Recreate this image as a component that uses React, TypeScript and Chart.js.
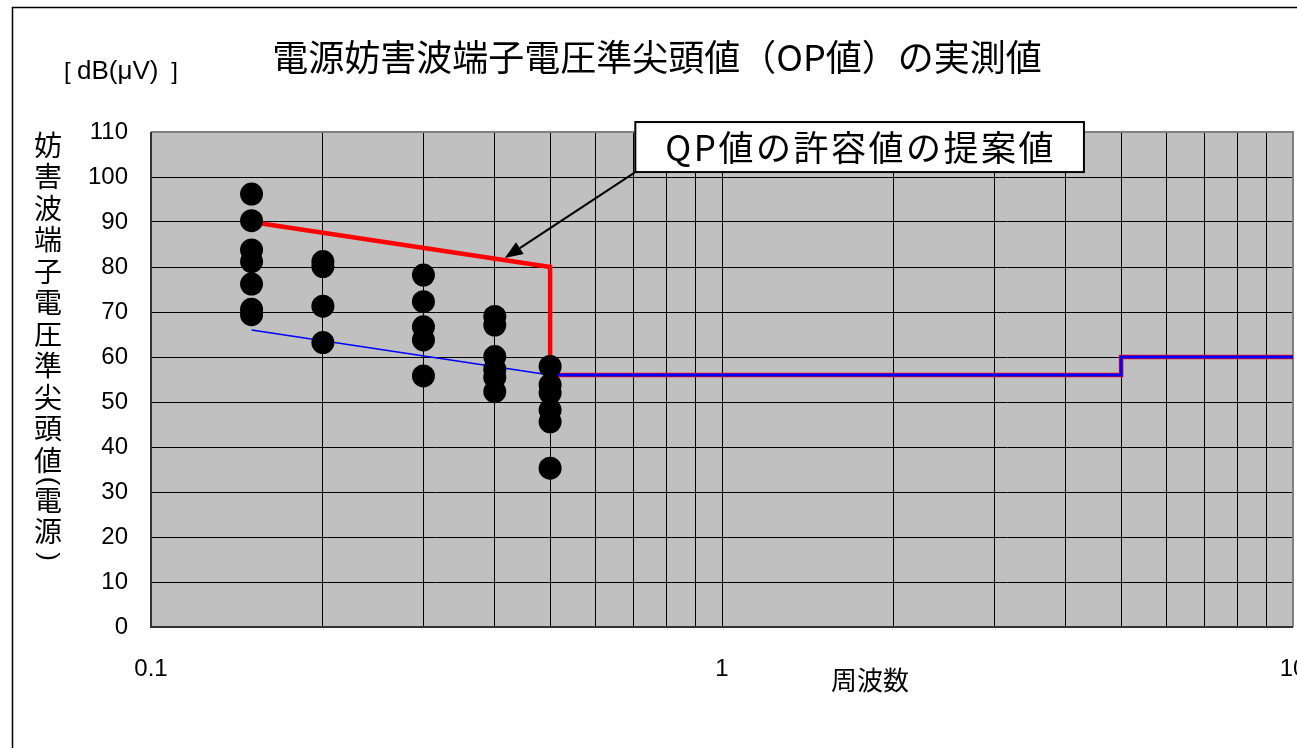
import React, { useEffect, useRef } from 'react';
import { Chart, registerables } from 'chart.js';

Chart.register(...registerables);

// ---- text ----
const chartTitle = '電源妨害波端子電圧準尖頭値（OP値）の実測値';
const yUnitOpen = '[';
const yUnitText = 'dB(μV)';
const yUnitClose = ']';
const yTitleChars = ['妨', '害', '波', '端', '子', '電', '圧', '準', '尖', '頭', '値', '(', '電', '源', ')'];
const xTitle = '周波数';
const calloutText = 'QP値の許容値の提案値';

// ---- axes ----
const xGridValues = [0.1, 0.2, 0.3, 0.4, 0.5, 0.6, 0.7, 0.8, 0.9, 1, 2, 3, 4, 5, 6, 7, 8, 9, 10];
const xTickValues = [0.1, 1, 10];
const xTickLabels = ['0.1', '1', '10'];
const yMin = 0;
const yMax = 110;
const yStep = 10;

// ---- measured QP values [dB(uV)] per frequency [MHz] ----
const measFreqs = [0.15, 0.2, 0.3, 0.4, 0.5];
const meas015 = [96.2, 90.3, 83.8, 81.2, 76.2, 70.6, 69.4];
const meas020 = [81.2, 80.1, 71.3, 63.2];
const meas030 = [78.2, 72.3, 66.7, 63.8, 55.8];
const meas040 = [69.0, 67.1, 60.1, 57.3, 55.5, 52.3];
const meas050 = [57.9, 53.8, 52.0, 48.2, 45.6, 35.3];
const measGroups = [meas015, meas020, meas030, meas040, meas050];

// ---- proposed limit (red) ----
const redFreqs = [0.15, 0.5, 0.5, 5, 5, 10];
const redLevels = [90, 80, 56, 56, 60, 60];
// ---- blue line ----
const blueThinFreqs = [0.15, 0.5];
const blueThinLevels = [66, 56];
const blueFreqs = [0.5, 5, 5, 10];
const blueLevels = [56, 56, 60, 60];

// ---- callout anchors (data coordinates) ----
const calloutCorner = { x: 0.705, y: 101.1 };
const arrowTip = { x: 0.4165, y: 82 };

const toPts = (xs: number[], ys: number[]) => xs.map((x, i) => ({ x, y: ys[i] }));

const scatterPts = measFreqs.flatMap((f, i) => measGroups[i].map((v) => ({ x: f, y: v })));

const JP = "'Noto Sans CJK JP', 'Noto Sans', sans-serif";
const NUM = "'Liberation Sans', Arial, sans-serif";

const decorPlugin = {
  id: 'decor',
  beforeDraw(chart: any) {
    const { ctx, chartArea: a } = chart;
    ctx.save();
    ctx.fillStyle = '#ffffff';
    ctx.fillRect(0, 0, chart.width, chart.height);
    ctx.fillStyle = '#c0c0c0';
    ctx.fillRect(a.left, a.top, a.right - a.left, a.bottom - a.top);
    ctx.restore();
  },
  beforeDatasetsDraw(chart: any) {
    const { ctx, chartArea: a } = chart;
    ctx.save();
    ctx.strokeStyle = '#808080';
    ctx.lineWidth = 2;
    ctx.beginPath();
    ctx.moveTo(a.left, a.top);
    ctx.lineTo(a.right, a.top);
    ctx.lineTo(a.right, a.bottom);
    ctx.stroke();
    ctx.strokeStyle = '#333';
    ctx.beginPath();
    ctx.moveTo(a.left, a.top);
    ctx.lineTo(a.left, a.bottom);
    ctx.lineTo(a.right, a.bottom);
    ctx.stroke();
    ctx.restore();
  },
  afterDraw(chart: any) {
    const { ctx } = chart;
    const xs = chart.scales.x;
    const ys = chart.scales.y;
    ctx.save();
    // outer frame
    ctx.strokeStyle = '#000';
    ctx.lineWidth = 1.5;
    ctx.beginPath();
    ctx.moveTo(12.5, chart.height);
    ctx.lineTo(12.5, 7.5);
    ctx.lineTo(chart.width, 7.5);
    ctx.stroke();

    ctx.fillStyle = '#000';
    // x tick labels (decades)
    ctx.font = `24px ${NUM}`;
    ctx.textAlign = 'center';
    ctx.textBaseline = 'middle';
    xTickValues.forEach((v, i) => {
      ctx.fillText(xTickLabels[i], xs.getPixelForValue(v), chart.chartArea.bottom + 42);
    });
    // title
    ctx.font = `36px ${JP}`;
    ctx.fillText(chartTitle, 657, 57);
    // unit
    ctx.font = `24px ${NUM}`;
    ctx.textAlign = 'left';
    ctx.fillText(yUnitOpen, 64, 72);
    ctx.font = `26px ${NUM}`;
    ctx.fillText(yUnitText, 77, 72);
    ctx.font = `24px ${NUM}`;
    ctx.textAlign = 'right';
    ctx.fillText(yUnitClose, 178, 72);
    // x title
    ctx.textAlign = 'center';
    ctx.font = `26px ${JP}`;
    ctx.fillText(xTitle, 870, 680);
    // vertical y title
    let y = 145;
    yTitleChars.forEach((ch, i) => {
      const isParen = ch === '(' || ch === ')';
      if (i > 0) {
        const prev = yTitleChars[i - 1];
        const prevParen = prev === '(' || prev === ')';
        if (prevParen) y += 19;
        else if (ch === '(') y += 21;
        else if (ch === ')') y += 25;
        else y += 31.5;
      }
      if (isParen) {
        ctx.save();
        ctx.translate(48, y);
        ctx.rotate(Math.PI / 2);
        ctx.font = `26px ${NUM}`;
        ctx.textAlign = 'center';
        ctx.textBaseline = 'middle';
        ctx.fillText(ch, 0, 0);
        ctx.restore();
      } else {
        ctx.font = `28px ${JP}`;
        ctx.fillText(ch, 48, y);
      }
    });

    // callout
    const bx = xs.getPixelForValue(calloutCorner.x);
    const bb = ys.getPixelForValue(calloutCorner.y);
    ctx.font = `35px ${JP}`;
    try { (ctx as any).letterSpacing = '2.5px'; } catch (e) {}
    const tw = ctx.measureText(calloutText).width;
    const bw = tw + 58;
    const bh = 50;
    ctx.fillStyle = '#fff';
    ctx.fillRect(bx, bb - bh, bw, bh);
    ctx.strokeStyle = '#000';
    ctx.lineWidth = 2;
    ctx.strokeRect(bx, bb - bh, bw, bh);
    ctx.fillStyle = '#000';
    ctx.textAlign = 'left';
    ctx.fillText(calloutText, bx + 30, bb - bh / 2 + 1);
    try { (ctx as any).letterSpacing = '0px'; } catch (e) {}

    // arrow
    const tx = xs.getPixelForValue(arrowTip.x);
    const ty = ys.getPixelForValue(arrowTip.y);
    const ang = Math.atan2(ty - bb, tx - bx);
    const hl = 18;
    const hw = 7;
    const baseX = tx - hl * Math.cos(ang);
    const baseY = ty - hl * Math.sin(ang);
    ctx.lineWidth = 2;
    ctx.beginPath();
    ctx.moveTo(bx, bb);
    ctx.lineTo(baseX, baseY);
    ctx.stroke();
    ctx.beginPath();
    ctx.moveTo(tx, ty);
    ctx.lineTo(baseX + hw * Math.sin(ang), baseY - hw * Math.cos(ang));
    ctx.lineTo(baseX - hw * Math.sin(ang), baseY + hw * Math.cos(ang));
    ctx.closePath();
    ctx.fill();
    ctx.restore();
  },
};

export default function App() {
  const ref = useRef<HTMLCanvasElement | null>(null);
  useEffect(() => {
    if (!ref.current) return;
    const chart = new Chart(ref.current, {
      type: 'scatter',
      data: {
        datasets: [
          {
            label: '実測値',
            data: scatterPts,
            backgroundColor: '#000',
            borderColor: '#000',
            pointRadius: 11.5,
            pointBorderWidth: 0,
            showLine: false,
            clip: false,
            order: 0,
          },
          {
            label: 'blue',
            data: toPts(blueFreqs, blueLevels),
            borderColor: '#0000ff',
            borderWidth: 3,
            pointRadius: 0,
            showLine: true,
            order: 1,
          },
          {
            label: 'blue-thin',
            data: toPts(blueThinFreqs, blueThinLevels),
            borderColor: '#0000ff',
            borderWidth: 1.6,
            pointRadius: 0,
            showLine: true,
            order: 2,
          },
          {
            label: 'QP許容値提案値',
            data: toPts(redFreqs, redLevels),
            borderColor: '#ff0000',
            borderWidth: 4.5,
            pointRadius: 0,
            showLine: true,
            order: 3,
          },
        ],
      } as any,
      options: {
        animation: false,
        responsive: false,
        events: [],
        layout: { autoPadding: false, padding: { top: 132, right: 4, left: 0, bottom: 0 } },
        plugins: { legend: { display: false }, tooltip: { enabled: false }, title: { display: false } },
        scales: {
          x: {
            type: 'logarithmic',
            min: 0.1,
            max: 10,
            afterBuildTicks: (scale: any) => {
              scale.ticks = xGridValues.map((v) => ({ value: v }));
            },
            afterFit: (scale: any) => {
              scale.height = 121;
            },
            ticks: { display: false },
            grid: { color: '#000', lineWidth: 1, drawTicks: false },
            border: { display: false },
          },
          y: {
            min: yMin,
            max: yMax,
            afterFit: (scale: any) => {
              scale.width = 151;
            },
            ticks: {
              stepSize: yStep,
              padding: 23,
              color: '#000',
              font: { family: NUM, size: 24 },
            },
            grid: { color: '#000', lineWidth: 1, drawTicks: false },
            border: { display: false },
          },
        },
      } as any,
      plugins: [decorPlugin],
    });
    return () => chart.destroy();
  }, []);
  return (
    <div style={{ position: 'fixed', left: 0, top: 0, width: 1297, height: 748, background: '#fff' }}>
      <canvas ref={ref} width={1297} height={748} style={{ width: 1297, height: 748, display: 'block' }} />
    </div>
  );
}
